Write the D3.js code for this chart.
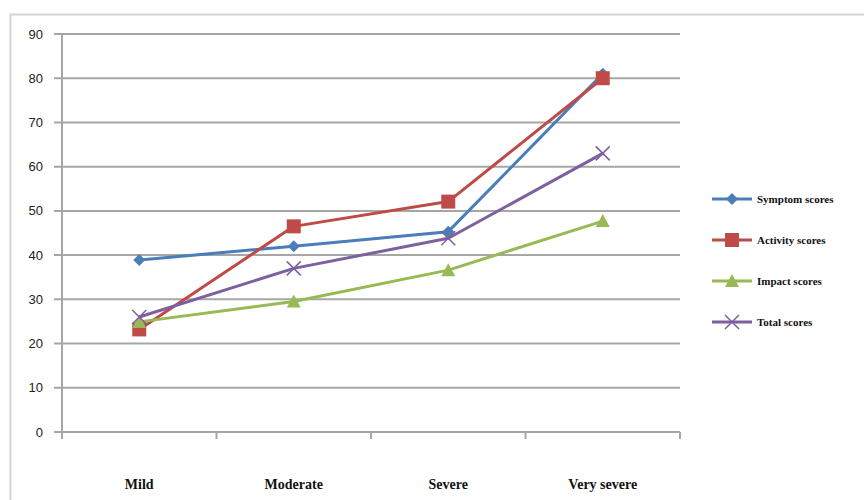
<!DOCTYPE html>
<html>
<head>
<meta charset="utf-8">
<script src="https://cdn.jsdelivr.net/npm/d3@7"></script>
<style>
	body { margin: 0; background: #fff; }
	svg { display: block; }
</style>
</head>
<body>
<div id="chart"></div>
<script>
let categories = ["Mild", "Moderate", "Severe", "Very severe"];
let seriesNames = ["Symptom scores", "Activity scores", "Impact scores", "Total scores"];
let symptomScores = [38.9, 42.0, 45.3, 81.0];
let activityScores = [23.2, 46.5, 52.1, 80.0];
let impactScores = [24.9, 29.5, 36.6, 47.7];
let totalScores = [26.0, 37.0, 43.8, 63.0];
let yTicks = [0, 10, 20, 30, 40, 50, 60, 70, 80, 90];

let colors = ["#4a7ebb", "#be4b48", "#98b954", "#7d60a0"];
let markers = ["diamond", "square", "triangle", "cross"];

let w = 864, h = 500;
let plot = { left: 62, right: 680, top: 34, bottom: 432 };

let svg = d3.select("#chart")
	.append("svg")
	.attr("width", w)
	.attr("height", h);

// outer chart border (left and top visible)
svg.append("path")
	.attr("d", `M10.5,${h} V14.5 H${w}`)
	.attr("fill", "none")
	.attr("stroke", "#d4d4d4")
	.attr("stroke-width", 2);

let x = d3.scaleBand()
	.domain(categories)
	.range([plot.left, plot.right]);

let y = d3.scaleLinear()
	.domain([0, 90])
	.range([plot.bottom, plot.top]);

// gridlines
svg.append("g")
	.selectAll("line")
	.data(yTicks)
	.enter().append("line")
	.attr("x1", plot.left - 8)
	.attr("x2", plot.right)
	.attr("y1", (d) => y(d))
	.attr("y2", (d) => y(d))
	.attr("stroke", "#a6a6a6")
	.attr("stroke-width", 2);

// y axis line
svg.append("line")
	.attr("x1", plot.left).attr("x2", plot.left)
	.attr("y1", plot.top).attr("y2", plot.bottom + 6)
	.attr("stroke", "#a6a6a6")
	.attr("stroke-width", 2);

// x axis ticks
let xTickPos = categories.map((c) => x(c)).concat([plot.right]);
svg.append("g")
	.selectAll("line")
	.data(xTickPos)
	.enter().append("line")
	.attr("x1", (d) => d).attr("x2", (d) => d)
	.attr("y1", plot.bottom).attr("y2", plot.bottom + 7)
	.attr("stroke", "#a6a6a6")
	.attr("stroke-width", 2);

// y labels
svg.append("g")
	.selectAll("text")
	.data(yTicks)
	.enter().append("text")
	.attr("x", 43)
	.attr("y", (d) => y(d))
	.attr("dy", "0.35em")
	.attr("text-anchor", "end")
	.attr("font-family", "Liberation Sans, Arial, sans-serif")
	.attr("font-size", 13)
	.attr("fill", "#222")
	.text((d) => d);

// x labels
svg.append("g")
	.selectAll("text")
	.data(categories)
	.enter().append("text")
	.attr("x", (d) => x(d) + x.bandwidth() / 2)
	.attr("y", 489)
	.attr("text-anchor", "middle")
	.attr("font-family", "Liberation Serif, Times New Roman, serif")
	.attr("font-weight", "bold")
	.attr("font-size", 14)
	.attr("fill", "#111")
	.text((d) => d);

let series = [symptomScores, activityScores, impactScores, totalScores].map((vals, i) => {
	return { name: seriesNames[i], color: colors[i], marker: markers[i], values: vals };
});

let line = d3.line()
	.x((d, i) => x(categories[i]) + x.bandwidth() / 2)
	.y((d) => y(d));

function drawMarker(g, type, cx, cy, color) {
	if (type === "diamond") {
		g.append("path")
			.attr("d", `M${cx},${cy - 6} L${cx + 6},${cy} L${cx},${cy + 6} L${cx - 6},${cy} Z`)
			.attr("fill", color);
	} else if (type === "square") {
		g.append("rect")
			.attr("x", cx - 7).attr("y", cy - 7)
			.attr("width", 14).attr("height", 14)
			.attr("fill", color);
	} else if (type === "triangle") {
		g.append("path")
			.attr("d", `M${cx},${cy - 7} L${cx + 7},${cy + 6} L${cx - 7},${cy + 6} Z`)
			.attr("fill", color);
	} else {
		g.append("path")
			.attr("d", `M${cx - 7},${cy - 7} L${cx + 7},${cy + 7} M${cx - 7},${cy + 7} L${cx + 7},${cy - 7}`)
			.attr("stroke", color)
			.attr("stroke-width", 1.5);
	}
}

series.forEach((s) => {
	let g = svg.append("g");
	g.append("path")
		.datum(s.values)
		.attr("d", line)
		.attr("fill", "none")
		.attr("stroke", s.color)
		.attr("stroke-width", 3)
		.attr("stroke-linejoin", "round");
	s.values.forEach((v, i) => {
		drawMarker(g, s.marker, x(categories[i]) + x.bandwidth() / 2, y(v), s.color);
	});
});

// legend
let legend = svg.append("g");
series.forEach((s, i) => {
	let ly = 199 + i * 41;
	legend.append("line")
		.attr("x1", 712).attr("x2", 752)
		.attr("y1", ly).attr("y2", ly)
		.attr("stroke", s.color)
		.attr("stroke-width", 3);
	drawMarker(legend, s.marker, 732, ly, s.color);
	legend.append("text")
		.attr("x", 757)
		.attr("y", ly)
		.attr("dy", "0.35em")
		.attr("font-family", "Liberation Serif, Times New Roman, serif")
		.attr("font-weight", "bold")
		.attr("font-size", 11)
		.attr("fill", "#111")
		.text(s.name);
});
</script>
</body>
</html>
